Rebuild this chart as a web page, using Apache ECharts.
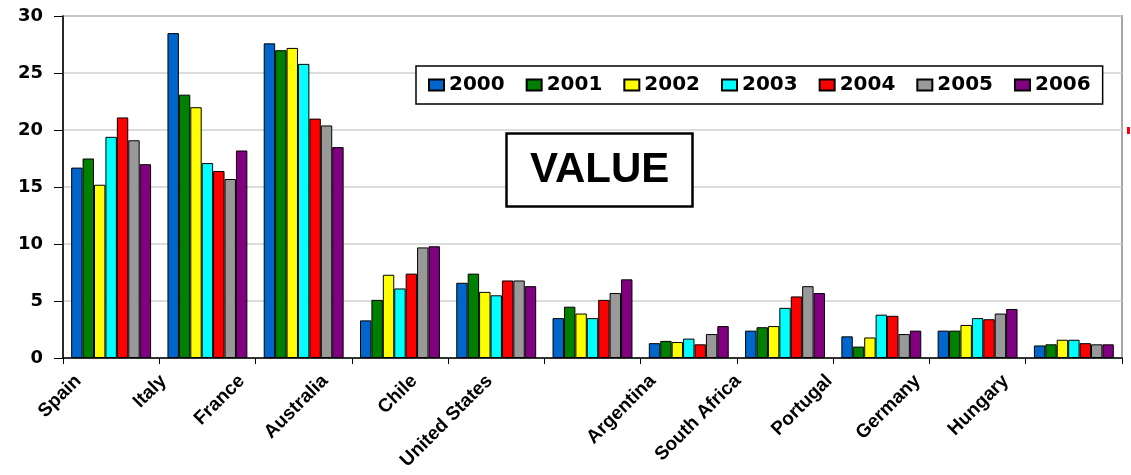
<!DOCTYPE html>
<html>
<head>
<meta charset="utf-8">
<script src="https://cdn.jsdelivr.net/npm/echarts@6/dist/echarts.min.js"></script>
<style>html,body{margin:0;padding:0;background:#fff}#c{width:1131px;height:475px}</style>
</head>
<body>
<div id="c"></div>
<script>
const categories = ['Spain','Italy','France','Australia','Chile','United States','Argentina','South Africa','Portugal','Germany','Hungary'];
const years = ['2000','2001','2002','2003','2004','2005','2006'];
const v2000 = [16.7, 28.5, 27.6, 3.3, 6.6, 3.5, 1.3, 2.4, 1.9, 2.4, 1.1];
const v2001 = [17.5, 23.1, 27.0, 5.1, 7.4, 4.5, 1.5, 2.7, 1.0, 2.4, 1.2];
const v2002 = [15.2, 22.0, 27.2, 7.3, 5.8, 3.9, 1.4, 2.8, 1.8, 2.9, 1.6];
const v2003 = [19.4, 17.1, 25.8, 6.1, 5.5, 3.5, 1.7, 4.4, 3.8, 3.5, 1.6];
const v2004 = [21.1, 16.4, 21.0, 7.4, 6.8, 5.1, 1.2, 5.4, 3.7, 3.4, 1.3];
const v2005 = [19.1, 15.7, 20.4, 9.7, 6.8, 5.7, 2.1, 6.3, 2.1, 3.9, 1.2];
const v2006 = [17.0, 18.2, 18.5, 9.8, 6.3, 6.9, 2.8, 5.7, 2.4, 4.3, 1.2];
const yTicks = [0, 5, 10, 15, 20, 25, 30];

const seriesValues = [v2000, v2001, v2002, v2003, v2004, v2005, v2006];
const colors = ['#0066cc', '#008000', '#ffff00', '#00ffff', '#ff0000', '#999999', '#800080'];

// style: horizontal shift of each rotated category label (px)
const labelShiftX = [-33, -44, -62, -75, -82, -103, -36, -47, -52, -60, -68];
const rich = {};
labelShiftX.forEach((dx, i) => {
  const a = Math.abs(dx) * Math.SQRT1_2;
  rich['l' + i] = {
    fontFamily: 'Liberation Sans, Arial, sans-serif',
    fontWeight: 'bold', fontSize: 19, color: '#000',
    padding: [0, a, 2 * a, 0]
  };
});

const chart = echarts.init(document.getElementById('c'), null, {renderer: 'canvas'});
chart.setOption({
  animation: false,
  backgroundColor: '#ffffff',
  title: {
    text: 'VALUE',
    left: 506, top: 133,
    borderColor: '#000', borderWidth: 2.5,
    backgroundColor: '#fff',
    padding: [15, 24, 15, 24],
    textStyle: {fontFamily: 'Liberation Sans, Arial, sans-serif', fontWeight: 'bold', fontSize: 42, lineHeight: 44, color: '#000'}
  },
  legend: {
    data: years,
    left: 416, top: 66,
    orient: 'horizontal',
    borderColor: '#000', borderWidth: 1.5,
    backgroundColor: '#fff',
    padding: [9, 12, 9, 12],
    itemWidth: 15, itemHeight: 11, itemGap: 21,
    icon: 'rect',
    textStyle: {fontFamily: 'DejaVu Sans, sans-serif', fontWeight: 'bold', fontSize: 20, color: '#000'}
  },
  grid: {
    left: 63, right: 9, top: 16, bottom: 117,
    show: true, borderColor: '#a6a6a6', borderWidth: 2, backgroundColor: 'transparent'
  },
  xAxis: {
    type: 'category',
    data: categories,
    axisLine: {lineStyle: {color: '#000', width: 1.5}},
    axisTick: {show: true, length: 6, lineStyle: {color: '#000', width: 1}},
    axisLabel: {
      interval: 0, rotate: 45, margin: 20,
      formatter: (v, i) => '{l' + i + '|' + v + '}',
      rich: rich
    }
  },
  yAxis: {
    type: 'value',
    min: yTicks[0], max: yTicks[yTicks.length - 1], interval: 5,
    axisLine: {show: true, lineStyle: {color: '#000', width: 1.5}},
    axisTick: {show: true, length: 9, lineStyle: {color: '#000', width: 1}},
    axisLabel: {margin: 20, fontFamily: 'DejaVu Sans, sans-serif', fontWeight: 'bold', fontSize: 18, color: '#000'},
    splitLine: {show: true, lineStyle: {color: '#d0d0d0', width: 1.5}}
  },
  series: years.map((y, k) => ({
    name: y,
    type: 'bar',
    data: seriesValues[k],
    barGap: '0%',
    barCategoryGap: '17%',
    itemStyle: {color: colors[k], borderColor: '#000', borderWidth: 1}
  })),
  graphic: [{
    type: 'rect', left: 1127, top: 127, shape: {width: 3, height: 7}, style: {fill: '#ff0000'}
  }]
});
</script>
</body>
</html>
